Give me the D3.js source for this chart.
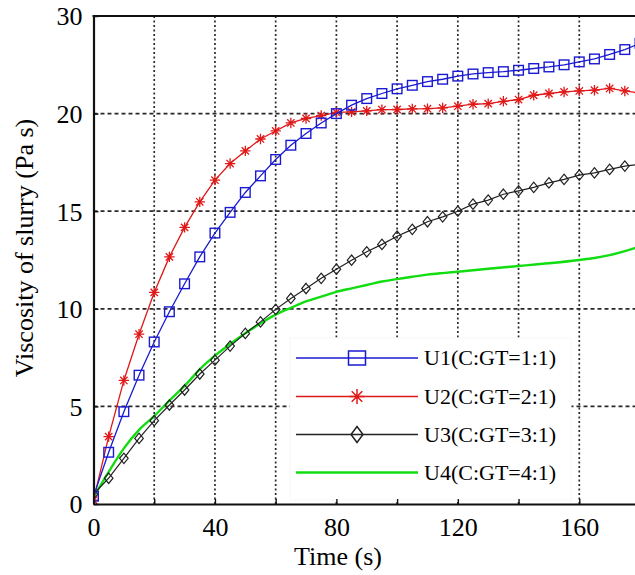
<!DOCTYPE html>
<html>
<head>
<meta charset="utf-8">
<script src="https://cdn.jsdelivr.net/npm/d3@7"></script>
<style>
  html, body { margin: 0; padding: 0; background: #fff; }
  svg { display: block; }
  text { font-family: "Liberation Serif", "Times New Roman", serif; fill: #000; }
</style>
</head>
<body>
<svg id="chart" width="635" height="575"></svg>
<script>
// Sampling times (s) for the marked series
const times = [0, 5, 10, 15, 20, 25, 30, 35, 40, 45, 50, 55, 60, 65, 70, 75, 80, 85, 90,
  95, 100, 105, 110, 115, 120, 125, 130, 135, 140, 145, 150, 155, 160, 165, 170, 175, 180];

// Viscosity of slurry (Pa s)
const u1 = [0.4, 2.65, 4.73, 6.6, 8.3, 9.85, 11.28, 12.66, 13.88, 14.94, 15.96, 16.81, 17.65,
  18.38, 18.98, 19.52, 20.0, 20.43, 20.77, 21.03, 21.27, 21.45, 21.64, 21.76, 21.92, 22.03,
  22.1, 22.15, 22.22, 22.31, 22.39, 22.5, 22.65, 22.8, 23.03, 23.28, 23.6];
const u2 = [0.2, 3.45, 6.33, 8.7, 10.84, 12.66, 14.17, 15.48, 16.59, 17.44, 18.09, 18.7, 19.11,
  19.52, 19.75, 19.9, 20.06, 20.09, 20.14, 20.2, 20.21, 20.24, 20.25, 20.29, 20.38, 20.48,
  20.51, 20.63, 20.72, 20.94, 21.03, 21.11, 21.16, 21.2, 21.29, 21.16, 21.05];
const u3 = [0.5, 1.32, 2.34, 3.36, 4.27, 5.07, 5.84, 6.66, 7.37, 8.09, 8.74, 9.33, 9.97,
  10.53, 11.04, 11.56, 12.03, 12.49, 12.92, 13.3, 13.72, 14.07, 14.46, 14.71, 15.0, 15.36,
  15.57, 15.87, 16.04, 16.22, 16.45, 16.63, 16.85, 16.96, 17.14, 17.31, 17.4];

// U4 is drawn as a plain line
const u4Times = [0, 5, 10, 15, 20, 25, 30, 35, 40, 45, 50, 55, 60, 65, 70, 75, 80, 85, 90, 95,
  100, 105, 110, 115, 120, 130, 140, 150, 160, 165, 170, 175, 180];
const u4 = [0.35, 1.65, 2.85, 3.8, 4.5, 5.3, 6.05, 6.9, 7.6, 8.2, 8.75, 9.25, 9.7, 10.05,
  10.38, 10.62, 10.87, 11.05, 11.22, 11.4, 11.52, 11.64, 11.75, 11.83, 11.9, 12.05, 12.19,
  12.33, 12.5, 12.6, 12.75, 12.95, 13.2];

const seriesNames = ["U1(C:GT=1:1)", "U2(C:GT=2:1)", "U3(C:GT=3:1)", "U4(C:GT=4:1)"];

const xTickValues = [0, 20, 40, 60, 80, 100, 120, 140, 160, 180];
const xTickLabels = [0, 40, 80, 120, 160];
const yTickValues = [0, 5, 10, 15, 20, 25];
const yTickLabels = ["0", "5", "10", "15", "20", "30"];

const svg = d3.select("#chart");
const margin = { left: 93.5, top: 16, right: 640, bottom: 504 };

const x = d3.scaleLinear().domain([0, 180]).range([margin.left, margin.right]);
const y = d3.scaleLinear().domain([0, 25]).range([margin.bottom, margin.top]);

// Grid
const grid = svg.append("g");
grid.selectAll("line.vg").data(xTickValues.filter(d => d > 0 && d < 180)).join("line")
  .attr("x1", d => x(d)).attr("x2", d => x(d))
  .attr("y1", y(0)).attr("y2", y(25))
  .attr("stroke", "#2a2a2a").attr("stroke-width", 1.7)
  .attr("stroke-dasharray", "2,2.5");
grid.selectAll("line.hg").data(yTickValues.filter(d => d > 0 && d < 25)).join("line")
  .attr("x1", x(0)).attr("x2", x(180))
  .attr("y1", d => y(d)).attr("y2", d => y(d))
  .attr("stroke", "#2a2a2a").attr("stroke-width", 1.7)
  .attr("stroke-dasharray", "4,3");

// Data
svg.append("clipPath").attr("id", "plotclip")
  .append("rect").attr("x", x(0)).attr("y", y(25) - 10)
  .attr("width", x(180) - x(0)).attr("height", y(0) - y(25) + 20);

const plot = svg.append("g").attr("clip-path", "url(#plotclip)");
const line = d3.line().x(d => x(d[0])).y(d => y(d[1]));
const smooth = d3.line().x(d => x(d[0])).y(d => y(d[1])).curve(d3.curveMonotoneX);

const colors = { u1: "#1a1ad2", u2: "#e01818", u3: "#222", u4: "#11dd11" };

function asteriskPath(r) {
  let p = "";
  for (let i = 0; i < 4; i++) {
    const a = i * Math.PI / 4;
    const dx = r * Math.cos(a), dy = r * Math.sin(a);
    p += `M${-dx},${-dy}L${dx},${dy}`;
  }
  return p;
}

// U4
plot.append("path").datum(u4Times.map((t, i) => [t, u4[i]]))
  .attr("d", smooth).attr("fill", "none").attr("stroke", colors.u4).attr("stroke-width", 2.4);

// U3 with diamonds
const d3pts = times.map((t, i) => [t, u3[i]]);
plot.append("path").datum(d3pts).attr("d", line)
  .attr("fill", "none").attr("stroke", colors.u3).attr("stroke-width", 1.2);
plot.selectAll("path.dia").data(d3pts).join("path")
  .attr("transform", d => `translate(${x(d[0])},${y(d[1])})`)
  .attr("d", "M0,-5.2L4.3,0L0,5.2L-4.3,0Z")
  .attr("fill", "none").attr("stroke", colors.u3).attr("stroke-width", 1.2);

// U2 with asterisks
const d2pts = times.map((t, i) => [t, u2[i]]);
plot.append("path").datum(d2pts).attr("d", line)
  .attr("fill", "none").attr("stroke", colors.u2).attr("stroke-width", 1.3);
plot.selectAll("path.ast").data(d2pts).join("path")
  .attr("transform", d => `translate(${x(d[0])},${y(d[1])})`)
  .attr("d", asteriskPath(5.2))
  .attr("fill", "none").attr("stroke", colors.u2).attr("stroke-width", 1.3);

// U1 with squares
const d1pts = times.map((t, i) => [t, u1[i]]);
plot.append("path").datum(d1pts).attr("d", line)
  .attr("fill", "none").attr("stroke", colors.u1).attr("stroke-width", 1.3);
plot.selectAll("rect.sq").data(d1pts).join("rect")
  .attr("x", d => x(d[0]) - 4.8).attr("y", d => y(d[1]) - 4.8)
  .attr("width", 9.6).attr("height", 9.6)
  .attr("fill", "none").attr("stroke", colors.u1).attr("stroke-width", 1.4);

// Legend
const lg = svg.append("g");
lg.append("rect").attr("x", 290).attr("y", 338).attr("width", 281).attr("height", 162)
  .attr("fill", "#fff").attr("stroke", "#f7f7f7").attr("stroke-width", 1);
const legendY = [358, 396.5, 434.5, 472.5];
const legendColors = [colors.u1, colors.u2, colors.u3, colors.u4];
seriesNames.forEach((name, i) => {
  const yy = legendY[i];
  lg.append("line").attr("x1", 296).attr("x2", 418).attr("y1", yy).attr("y2", yy)
    .attr("stroke", legendColors[i]).attr("stroke-width", i === 3 ? 2.6 : 1.5);
  const mx = 357;
  if (i === 0) {
    lg.append("rect").attr("x", mx - 8.5).attr("y", yy - 7).attr("width", 17).attr("height", 14)
      .attr("fill", "none").attr("stroke", colors.u1).attr("stroke-width", 1.5);
  } else if (i === 1) {
    lg.append("path").attr("transform", `translate(${mx},${yy})`).attr("d", asteriskPath(7.5))
      .attr("fill", "none").attr("stroke", colors.u2).attr("stroke-width", 1.5);
  } else if (i === 2) {
    lg.append("path").attr("transform", `translate(${mx},${yy})`)
      .attr("d", "M0,-8L6,0L0,8L-6,0Z")
      .attr("fill", "none").attr("stroke", colors.u3).attr("stroke-width", 1.5);
  }
  lg.append("text").attr("x", 424).attr("y", yy).attr("dy", "0.34em")
    .attr("font-size", 22).text(name);
});

// Axes
const xAxis = d3.axisBottom(x).tickValues(xTickValues)
  .tickSizeInner(-5).tickSizeOuter(0)
  .tickFormat(d => xTickLabels.includes(d) ? String(d) : "");
const gx = svg.append("g").attr("transform", `translate(0,${y(0)})`).call(xAxis);
gx.select(".domain").attr("stroke", "#111").attr("stroke-width", 2.2);
gx.selectAll(".tick line").attr("stroke", "#111").attr("stroke-width", 1.4);
gx.selectAll(".tick text").attr("font-size", 26)
  .attr("y", 32).attr("dy", 0).attr("fill", "#000");

const yAxis = d3.axisLeft(y).tickValues(yTickValues)
  .tickSizeInner(-5).tickSizeOuter(0)
  .tickFormat((d, i) => yTickLabels[i]);
const gy = svg.append("g").attr("transform", `translate(${x(0)},0)`).call(yAxis);
gy.select(".domain").attr("stroke", "#111").attr("stroke-width", 2.2);
gy.selectAll(".tick line").attr("stroke", "#111").attr("stroke-width", 1.4);
gy.selectAll(".tick text").attr("font-size", 26)
  .attr("x", -11).attr("dy", "0.34em").attr("fill", "#000");

// Top frame line
svg.append("line").attr("x1", x(0) - 1).attr("x2", 635).attr("y1", y(25)).attr("y2", y(25))
  .attr("stroke", "#111").attr("stroke-width", 2.2);

// Axis titles
svg.append("text").attr("x", 338).attr("y", 565).attr("text-anchor", "middle")
  .attr("font-size", 26).text("Time (s)");
svg.append("text").attr("transform", "translate(33,248) rotate(-90)")
  .attr("text-anchor", "middle").attr("font-size", 26).text("Viscosity of slurry (Pa s)");
</script>
</body>
</html>
